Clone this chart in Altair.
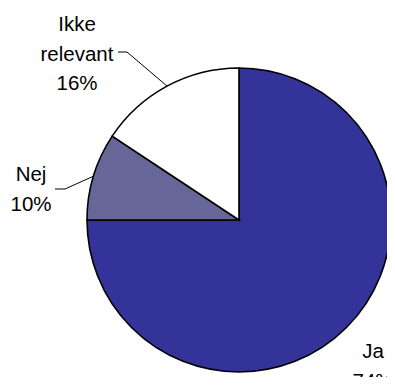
import math
import altair as alt
import pandas as pd

# ---- data ----
categories = ["Ja", "Nej", "Ikke relevant"]
values = [75.0, 9.3, 15.7]
pct_labels = ["74%", "10%", "16%"]
label_lines = [["Ja", "74%"], ["Nej", "10%"], ["Ikke", "relevant", "16%"]]
colors = ["#333399", "#666699", "#FFFFFF"]

# ---- layout ----
W, H = 379, 369
CX, CY, R = 231, 212, 152
FONT = "Liberation Sans"
FS = 20.5
LH = 29.5

df = pd.DataFrame({"cat": categories, "val": values, "idx": range(len(categories))})

pie = alt.Chart(df).mark_arc(radius=R, stroke="black", strokeWidth=1.6).encode(
    theta=alt.Theta("val:Q", stack=True),
    order=alt.Order("idx:Q"),
    color=alt.Color("cat:N", scale=alt.Scale(domain=categories, range=colors), legend=None),
    x=alt.value(CX),
    y=alt.value(CY),
)

# label anchors (layout)
anchors = {"Ja": (365, 350), "Nej": (23, 173), "Ikke relevant": (69, 23)}
lab_rows = []
for c, lines in zip(categories, label_lines):
    ax, ay = anchors[c]
    lab_rows.append({"cat": c, "txt": "\n".join(lines), "lx": ax, "ly": ay})
lab_df = pd.DataFrame(lab_rows)

labels = alt.Chart(lab_df).mark_text(
    font=FONT, fontSize=FS, lineHeight=LH, lineBreak="\n", align="center",
    baseline="alphabetic", color="black"
).encode(
    text="txt:N",
    x=alt.X("lx:Q", scale=None),
    y=alt.Y("ly:Q", scale=None),
)

# leader lines: from slice mid-angle on the rim to the label
total = sum(values)
cum = 0.0
mid = {}
for c, v in zip(categories, values):
    mid[c] = (cum + v / 2) / total * 2 * math.pi
    cum += v
elbows = {"Nej": [(47, 181), (57, 181)], "Ikke relevant": [(110, 44), (119, 44)]}
lead_rows = []
for c, pts in elbows.items():
    a = mid[c]
    ex, ey = CX + R * math.sin(a), CY - R * math.cos(a)
    seq = pts + [(ex, ey)]
    for k, (px, py) in enumerate(seq):
        lead_rows.append({"cat": c, "k": k, "px": px, "py": py})
lead_df = pd.DataFrame(lead_rows)

leaders = alt.Chart(lead_df).mark_line(color="black", strokeWidth=1).encode(
    x=alt.X("px:Q", scale=None),
    y=alt.Y("py:Q", scale=None),
    detail="cat:N",
    order="k:Q",
)

chart = alt.layer(pie, leaders, labels).properties(
    width=W, height=H, padding=0, autosize=alt.AutoSizeParams(type="none")
).configure_view(stroke=None)

chart.save("out.html", embed_options={"renderer": "svg", "actions": False})
